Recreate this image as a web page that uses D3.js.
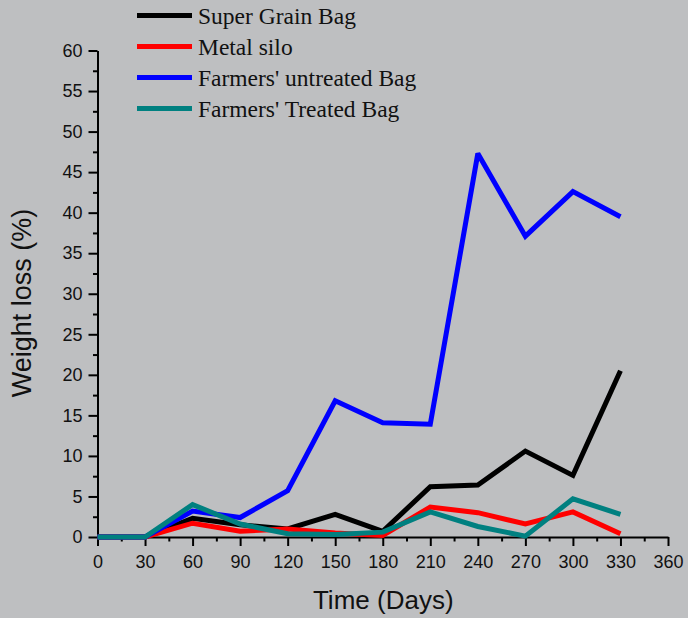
<!DOCTYPE html>
<html>
<head>
<meta charset="utf-8">
<script src="https://cdn.jsdelivr.net/npm/d3@7"></script>
<style>
  html, body { margin: 0; padding: 0; background: #bebfc1; }
  svg { display: block; }
</style>
</head>
<body>
<svg id="chart" width="688" height="618"></svg>
<script>
// Storage time (days)
const days = [0, 30, 60, 90, 120, 150, 180, 210, 240, 270, 300, 330];

// Weight loss (%) per storage type
const superGrainBag    = [0, 0, 2.3, 1.5, 1.0, 2.8, 0.7, 6.2, 6.4, 10.6, 7.6, 20.5];
const metalSilo        = [0, 0, 1.7, 0.7, 1.0, 0.5, 0.2, 3.7, 3.0, 1.6, 3.1, 0.4];
const farmersUntreated = [0, 0, 3.2, 2.4, 5.7, 16.8, 14.1, 13.9, 47.3, 37.1, 42.6, 39.5];
const farmersTreated   = [0, 0, 4.0, 1.6, 0.4, 0.3, 0.6, 3.1, 1.3, 0.1, 4.7, 2.8];

const seriesNames  = ["Super Grain Bag", "Metal silo", "Farmers' untreated Bag", "Farmers' Treated Bag"];
const seriesValues = [superGrainBag, metalSilo, farmersUntreated, farmersTreated];
const seriesColors = ["#000000", "#ff0000", "#0000ff", "#008080"];

const xTicks = [0, 30, 60, 90, 120, 150, 180, 210, 240, 270, 300, 330, 360];
const yTicks = [0, 5, 10, 15, 20, 25, 30, 35, 40, 45, 50, 55, 60];

const svg = d3.select("#chart");
const plotLeft = 97.5, plotRight = 668, plotTop = 50.5, plotBottom = 537;

const x = d3.scaleLinear().domain([0, 360]).range([plotLeft, plotRight]);
const y = d3.scaleLinear().domain([0, 60]).range([plotBottom, plotTop]);

// Minor ticks (half steps)
const xMinor = d3.range(15, 360, 30);
const yMinor = d3.range(2.5, 60, 5);

const axisFont = "Arial, 'Liberation Sans', sans-serif";

// X axis
const gx = svg.append("g").attr("transform", `translate(0,${plotBottom})`);
gx.call(d3.axisBottom(x).tickValues(xMinor).tickSize(4.5).tickFormat(""))
  .call(g => g.select(".domain").remove());
gx.append("g").call(d3.axisBottom(x).tickValues(xTicks).tickSize(9).tickPadding(9).tickSizeOuter(0))
  .call(g => g.selectAll("text").attr("font-size", 18).attr("font-family", axisFont).attr("fill", "#111"));
gx.selectAll("line").attr("stroke", "#000").attr("stroke-width", 2);
gx.selectAll(".domain").attr("stroke", "#000").attr("stroke-width", 2);

// Y axis
const gy = svg.append("g").attr("transform", `translate(${plotLeft},0)`);
gy.call(d3.axisLeft(y).tickValues(yMinor).tickSize(4.5).tickFormat(""))
  .call(g => g.select(".domain").remove());
gy.append("g").call(d3.axisLeft(y).tickValues(yTicks).tickSize(9).tickPadding(6).tickSizeOuter(0))
  .call(g => g.selectAll("text").attr("font-size", 18).attr("font-family", axisFont).attr("fill", "#111"));
gy.selectAll("line").attr("stroke", "#000").attr("stroke-width", 2);
gy.selectAll(".domain").attr("stroke", "#000").attr("stroke-width", 2);

// Axis titles
svg.append("text")
  .attr("x", (plotLeft + plotRight) / 2 + 0.5).attr("y", 609)
  .attr("text-anchor", "middle")
  .attr("font-family", axisFont).attr("font-size", 26).attr("fill", "#111")
  .text("Time (Days)");

svg.append("text")
  .attr("transform", "translate(31,303) rotate(-90)")
  .attr("text-anchor", "middle")
  .attr("font-family", axisFont).attr("font-size", 27).attr("fill", "#111")
  .text("Weight loss (%)");

// Series lines
const line = d3.line().x((d, i) => x(days[i])).y(d => y(d));
seriesValues.forEach((vals, k) => {
  svg.append("path")
    .datum(vals)
    .attr("d", line)
    .attr("fill", "none")
    .attr("stroke", seriesColors[k])
    .attr("stroke-width", 5)
    .attr("stroke-linejoin", "miter")
    .attr("stroke-miterlimit", 2);
});

// Legend
const legend = svg.append("g");
seriesNames.forEach((name, k) => {
  const ly = 15.5 + k * 31;
  legend.append("line")
    .attr("x1", 137).attr("x2", 192).attr("y1", ly).attr("y2", ly)
    .attr("stroke", seriesColors[k]).attr("stroke-width", 5);
  legend.append("text")
    .attr("x", 198).attr("y", ly + 8)
    .attr("font-family", "'Times New Roman', 'Liberation Serif', serif")
    .attr("font-size", 23.5).attr("fill", "#111")
    .text(name);
});
</script>
</body>
</html>
